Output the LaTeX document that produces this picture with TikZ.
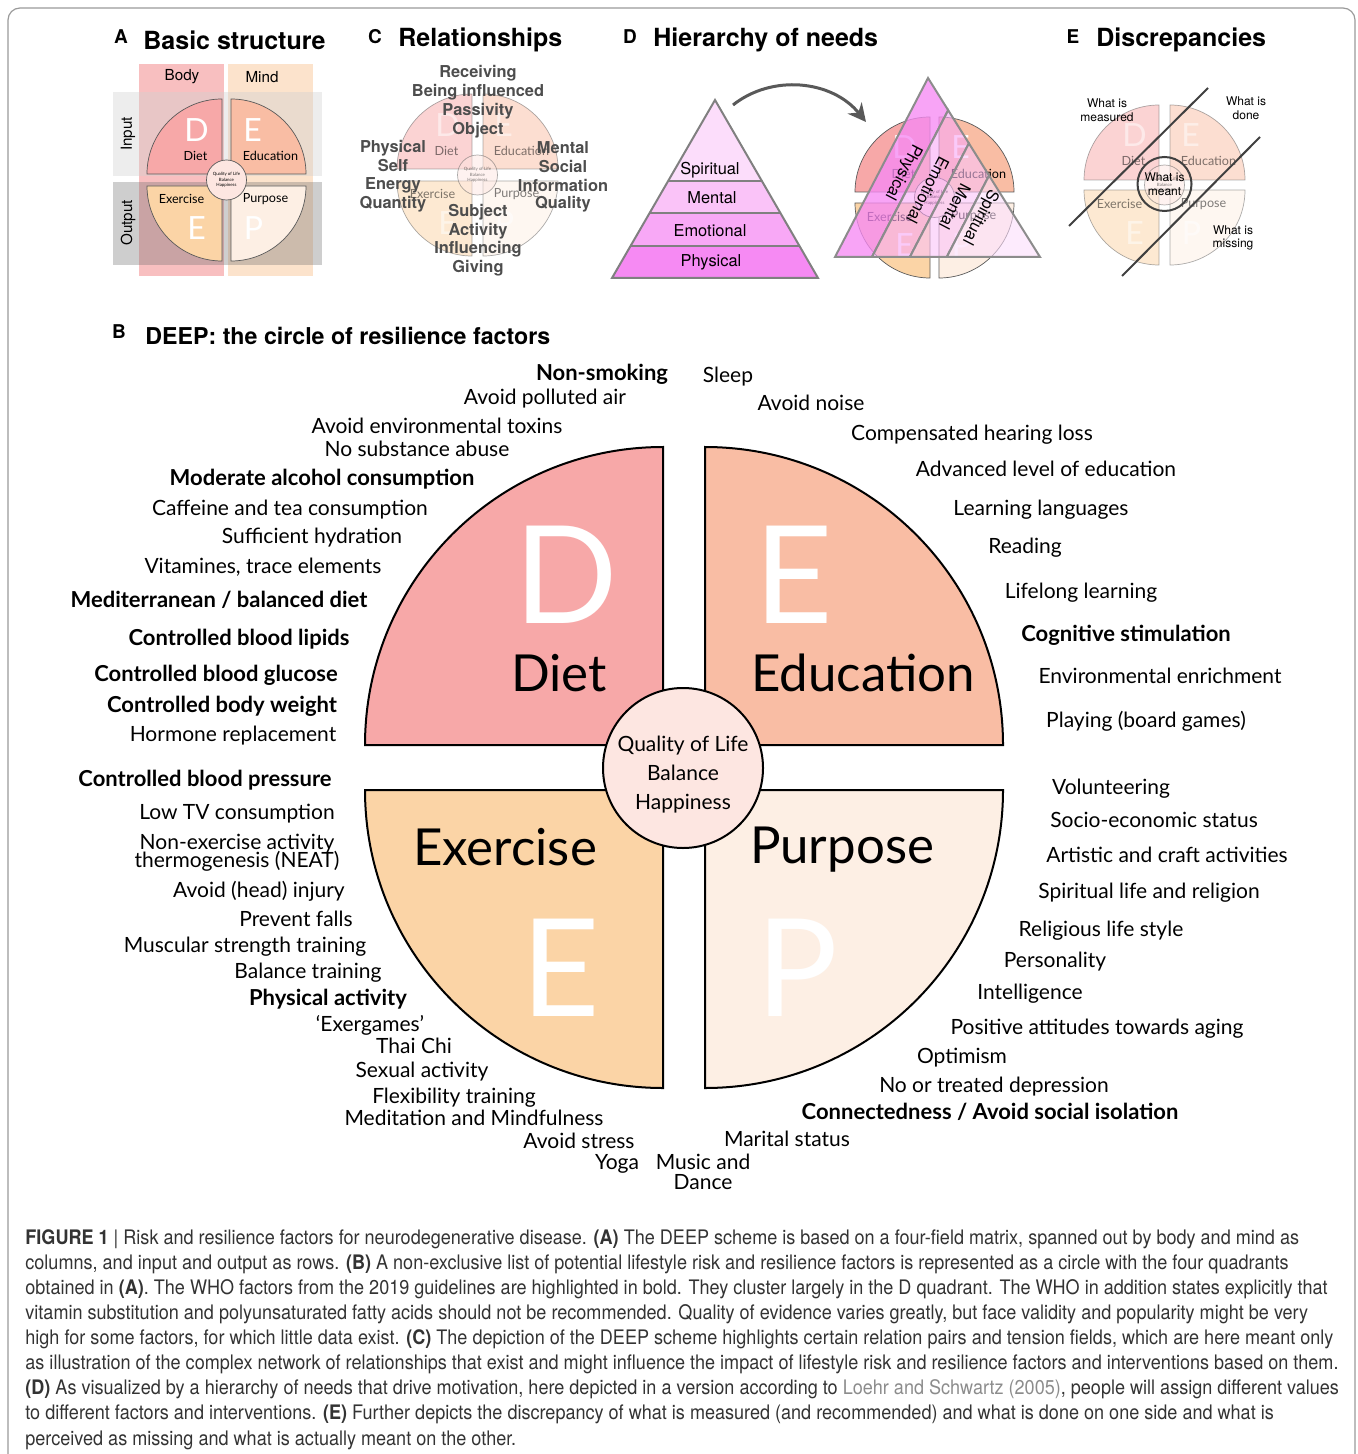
\documentclass[tikz,border=0pt]{standalone}
\usepackage{fontspec}
\setmainfont{Lato}
\newfontfamily\hv{TeX Gyre Heros}
\newfontfamily\capfont[FakeStretch=0.903]{TeX Gyre Heros}
\usetikzlibrary{calc,arrows.meta}

\definecolor{colD}{HTML}{F7A8A8}
\definecolor{colE}{HTML}{F9BDA4}
\definecolor{colX}{HTML}{FBD4A6}
\definecolor{colP}{HTML}{FDEFE4}
\definecolor{colQ}{HTML}{FDE6E1}
\definecolor{bodycol}{HTML}{F8BFC0}
\definecolor{mindcol}{HTML}{FCE3CC}
\definecolor{pyrS}{HTML}{FCDDFB}
\definecolor{pyrM}{HTML}{FAC3F8}
\definecolor{pyrE}{HTML}{F8A8F6}
\definecolor{pyrP}{HTML}{F68AF3}
\definecolor{txtC}{HTML}{4D4D4D}
\definecolor{capgray}{HTML}{333333}
\definecolor{linkgray}{HTML}{8C8C8C}
\definecolor{framegray}{HTML}{9A9A9A}

% small DEEP circle: name prefix, centre x, centre y, half gap x, half gap y
\newcommand{\minideep}[5]{%
  \draw[mini,fill=colD] (#2-#4,#3-#5) -- ++(-75,0) arc[start angle=180,end angle=270,radius=75] -- cycle;
  \draw[mini,fill=colE] (#2+#4,#3-#5) -- ++(0,-75) arc[start angle=270,end angle=360,radius=75] -- cycle;
  \draw[mini,fill=colX] (#2-#4,#3+#5) -- ++(-75,0) arc[start angle=180,end angle=90,radius=75] -- cycle;
  \draw[mini,fill=colP] (#2+#4,#3+#5) -- ++(75,0) arc[start angle=0,end angle=90,radius=75] -- cycle;
  \node[minilet] (#1D) at (#2-30,#3-50) {D};
  \node[minilet] (#1E) at (#2+26,#3-50) {E};
  \node[minilet] (#1X) at (#2-30,#3+48) {E};
  \node[minilet] (#1P) at (#2+27,#3+48) {P};
  \node[minilab] (#1diet) at (#2-31,#3-24) {Diet};
  \node[minilab] (#1edu) at (#2+44,#3-24) {Education};
  \node[minilab] (#1exe) at (#2-45,#3+19) {Exercise};
  \node[minilab] (#1pur) at (#2+39,#3+19) {Purpose};
  \node[miniqol] (#1qol) at (#2,#3) {Quality of Life\\Balance\\Happiness};
}

\begin{document}
\begin{tikzpicture}[x=0.5pt,y=-0.5pt,
  mini/.style={draw=black!65,line width=0.35pt},
  minilet/.style={text=white,font=\fontsize{16}{16}\selectfont,inner sep=0},
  minilab/.style={font=\fontsize{6.3}{7}\selectfont,inner sep=0},
  miniqol/.style={circle,draw=black!65,line width=0.35pt,fill=colQ,minimum size=20pt,inner sep=0,align=center,font=\fontsize{2.2}{2.7}\selectfont},
  quad/.style={draw=black,line width=1pt},
  biglet/.style={text=white,font=\fontsize{68}{68}\selectfont,inner sep=0},
  bigname/.style={font=\fontsize{25.5}{26}\selectfont,inner sep=0},
  lst/.style={font=\fontsize{10.5}{12}\selectfont,anchor=base,yshift=-3.5pt,inner sep=0},
  lstb/.style={lst,font=\fontsize{11}{12}\selectfont\bfseries},
  ttl/.style={font=\hv\bfseries\fontsize{12.5}{14}\selectfont,anchor=west,inner sep=0},
  pnl/.style={font=\hv\bfseries\fontsize{9.5}{10}\selectfont,inner sep=0},
  axis/.style={font=\hv\fontsize{7.6}{9}\selectfont,inner sep=0},
  rel/.style={font=\hv\bfseries\fontsize{8.2}{9}\selectfont,text=txtC,inner sep=0},
  need/.style={font=\hv\fontsize{8.2}{9}\selectfont,inner sep=0},
  disc/.style={font=\hv\fontsize{6}{6.8}\selectfont,align=center,inner sep=0},
  pyrline/.style={draw=black!50,line width=1pt},
  strip/.style={draw=black!45,line width=1pt,fill opacity=0.6}
  ]
  \useasboundingbox (0,0) rectangle (1357,1454);
  \draw[framegray,line width=0.6pt,rounded corners=6pt] (8,1454) -- (8,8) -- (1355,8) -- (1355,1454);

  % A: basic structure
  \node[pnl] (la) at (121,37) {A};
  \node[ttl] (ta) at (143,40) {Basic structure};
  \fill[bodycol] (139,64) rectangle (224,276);
  \fill[mindcol] (228,64) rectangle (313,276);
  \fill[black!18,opacity=0.4] (113,92) rectangle (322,176);
  \fill[black!58,opacity=0.33] (113,182) rectangle (322,265);
  \minideep{a}{226.5}{180}{4.5}{6}
  \node[axis] (body) at (182,77) {Body};
  \node[axis] (mind) at (262,77) {Mind};
  \node[axis,rotate=90] (input) at (128,134) {Input};
  \node[axis,rotate=90] (output) at (128,223) {Output};

  % C: relationships
  \node[pnl] (lc) at (375,37) {C};
  \node[ttl] (tc) at (398,40) {Relationships};
  \begin{scope}[opacity=0.5]
    \minideep{c}{477.5}{175}{5.5}{6}
  \end{scope}
  \node[rel] (recv) at (478,73) {Receiving};
  \node[rel] (beinf) at (478,92) {Being influenced};
  \node[rel] (pass) at (478,111) {Passivity};
  \node[rel] (obj) at (478,130) {Object};
  \node[rel] (phys) at (393,148) {Physical};
  \node[rel] (self) at (393,166) {Self};
  \node[rel] (enrg) at (393,185) {Energy};
  \node[rel] (quan) at (393,204) {Quantity};
  \node[rel] (ment) at (563,148) {Mental};
  \node[rel] (soc) at (563,166) {Social};
  \node[rel] (info) at (563,185) {Information};
  \node[rel] (qual) at (563,204) {Quality};
  \node[rel] (subj) at (478,212) {Subject};
  \node[rel] (act) at (478,231) {Activity};
  \node[rel] (infl) at (478,249) {Influencing};
  \node[rel] (giv) at (478,268) {Giving};

  % D: hierarchy of needs
  \node[pnl] (ld) at (630,37) {D};
  \node[ttl] (td) at (653,40) {Hierarchy of needs};
  \coordinate (pA) at (715,100);
  \coordinate (pL) at (612,278);
  \coordinate (pR) at (818,278);
  \fill[pyrS] (pA) -- ($(pA)!0.455!(pL)$) -- ($(pA)!0.455!(pR)$) -- cycle;
  \fill[pyrM] ($(pA)!0.455!(pL)$) -- ($(pA)!0.635!(pL)$) -- ($(pA)!0.635!(pR)$) -- ($(pA)!0.455!(pR)$) -- cycle;
  \fill[pyrE] ($(pA)!0.635!(pL)$) -- ($(pA)!0.82!(pL)$) -- ($(pA)!0.82!(pR)$) -- ($(pA)!0.635!(pR)$) -- cycle;
  \fill[pyrP] ($(pA)!0.82!(pL)$) -- (pL) -- (pR) -- ($(pA)!0.82!(pR)$) -- cycle;
  \foreach \t in {0.455,0.635,0.82}
    \draw[pyrline] ($(pA)!\t!(pL)$) -- ($(pA)!\t!(pR)$);
  \draw[pyrline] (pA) -- (pL) -- (pR) -- cycle;
  \node[need] (spir) at (710,170) {Spiritual};
  \node[need] (ment2) at (712,198) {Mental};
  \node[need] (emot) at (710,231) {Emotional};
  \node[need] (phys2) at (711,262) {Physical};
  \coordinate (arrS) at (733,105);
  \coordinate (arrE) at (866,122);
  \draw[black!65,line width=1.5pt,-{Stealth[length=9pt,width=9pt]}] (arrS) .. controls (772,74) and (832,80) .. (arrE);
  \minideep{d}{934.5}{197.5}{4.5}{5.5}
  \coordinate (tA) at (928,78);
  \coordinate (tB) at (835,257);
  \coordinate (tC) at (1040,257);
  \draw[strip,fill=pyrP,fill opacity=0.78] (tA) -- (tB) -- ($(tC)!0.82!(tB)$) -- ($(tC)!0.82!(tA)$) -- cycle;
  \draw[strip,fill=pyrE] ($(tC)!0.82!(tA)$) -- ($(tC)!0.82!(tB)$) -- ($(tC)!0.635!(tB)$) -- ($(tC)!0.635!(tA)$) -- cycle;
  \draw[strip,fill=pyrM] ($(tC)!0.635!(tA)$) -- ($(tC)!0.635!(tB)$) -- ($(tC)!0.455!(tB)$) -- ($(tC)!0.455!(tA)$) -- cycle;
  \draw[strip,fill=pyrS] ($(tC)!0.455!(tA)$) -- ($(tC)!0.455!(tB)$) -- (tC) -- cycle;
  \node[need,rotate=-117.5] (rphys) at (903,172) {Physical};
  \node[need,rotate=-117.5] (remot) at (928,190) {Emotional};
  \node[need,rotate=-117.5] (rment) at (955,207) {Mental};
  \node[need,rotate=-117.5] (rspir) at (980,217) {Spiritual};

  % E: discrepancies
  \node[pnl] (le) at (1073,37) {E};
  \node[ttl] (te) at (1096,40) {Discrepancies};
  \begin{scope}[opacity=0.5]
    \minideep{e}{1164.5}{185}{5.5}{5}
  \end{scope}
  \node[disc,circle,draw=black!75,line width=1pt,minimum size=27pt] (meant) at (1164.5,184) {What is\\meant};
  \node[disc] (measd) at (1107,110) {What is\\measured};
  \node[disc] (done) at (1246,108) {What is\\done};
  \node[disc] (miss) at (1233,238) {What is\\missing};
  \coordinate (eL1) at (1069,226);
  \coordinate (eR1) at (1208,88);
  \coordinate (eL2) at (1122,276);
  \coordinate (eR2) at (1260,137);
  \draw[black!75,line width=1pt] (eL1) -- (eR1);
  \draw[black!75,line width=1pt] (eL2) -- (eR2);

  % B: the DEEP circle
  \node[pnl] (lb) at (119,332) {B};
  \node[ttl,font=\hv\bfseries\fontsize{11.6}{14}\selectfont] (tb) at (145,336) {DEEP: the circle of resilience factors};
  \draw[quad,fill=colD] (663,745) -- ++(-298,0) arc[start angle=180,end angle=270,radius=298] -- cycle;
  \draw[quad,fill=colE] (705,745) -- ++(0,-298) arc[start angle=270,end angle=360,radius=298] -- cycle;
  \draw[quad,fill=colX] (663,790) -- ++(-298,0) arc[start angle=180,end angle=90,radius=298] -- cycle;
  \draw[quad,fill=colP] (705,790) -- ++(298,0) arc[start angle=0,end angle=90,radius=298] -- cycle;
  \node[biglet] (bD) at (566,575) {D};
  \node[biglet] (bE) at (794,575) {E};
  \node[biglet] (bX) at (561,968) {E};
  \node[biglet] (bP) at (797,968) {P};
  \node[bigname] (diet) at (559,673) {Diet};
  \node[bigname] (edu) at (863,673) {Education};
  \node[bigname] (exe) at (505,847) {Exercise};
  \node[bigname] (pur) at (842,850) {Purpose};
  \node[circle,draw=black,line width=1pt,fill=colQ,minimum size=80pt] (qol) at (683,768) {};
  \node[align=center,inner sep=0,font=\fontsize{10.5}{14.5}\selectfont] (qoltxt) at (qol.center) [yshift=-3.5pt] {Quality of Life\\Balance\\Happiness};

  % B: diet side
  \node[lstb] (nsmok) at (602,374) {Non-smoking};
  \node[lst] (polair) at (545,398) {Avoid polluted air};
  \node[lst] (toxin) at (437,426) {Avoid environmental toxins};
  \node[lst] (subst) at (417,450) {No substance abuse};
  \node[lstb] (alcoh) at (322,478) {Moderate alcohol consumption};
  \node[lst] (caff) at (290,508) {Caffeine and tea consumption};
  \node[lst] (hydr) at (312,536) {Sufficient hydration};
  \node[lst] (vitam) at (263,566) {Vitamines, trace elements};
  \node[lstb] (medit) at (219,600) {Mediterranean / balanced diet};
  \node[lstb] (lipid) at (239,638) {Controlled blood lipids};
  \node[lstb] (gluc) at (216,674) {Controlled blood glucose};
  \node[lstb] (weight) at (222,705) {Controlled body weight};
  \node[lst] (horm) at (233,734) {Hormone replacement};

  % B: exercise side
  \node[lstb] (press) at (205,779) {Controlled blood pressure};
  \node[lst] (lowtv) at (237,812) {Low TV consumption};
  \node[lst] (neat1) at (237,842) {Non-exercise activity};
  \node[lst] (neat2) at (237,860) {thermogenesis (NEAT)};
  \node[lst] (injur) at (259,890) {Avoid (head) injury};
  \node[lst] (falls) at (296,919) {Prevent falls};
  \node[lst] (muscl) at (245,945) {Muscular strength training};
  \node[lst] (balan) at (308,971) {Balance training};
  \node[lstb] (physa) at (328,998) {Physical activity};
  \node[lst] (exerg) at (370,1024) {‘Exergames’};
  \node[lst] (thai) at (414,1046) {Thai Chi};
  \node[lst] (sexual) at (422,1070) {Sexual activity};
  \node[lst] (flex) at (454,1096) {Flexibility training};
  \node[lst] (mindf) at (474,1118) {Meditation and Mindfulness};
  \node[lst] (stress) at (579,1141) {Avoid stress};
  \node[lst] (yoga) at (617,1162) {Yoga};
  \node[lst] (music) at (703,1162) {Music and};
  \node[lst] (dance) at (703,1182) {Dance};

  % B: education side
  \node[lst] (sleep) at (728,376) {Sleep};
  \node[lst] (noise) at (811,404) {Avoid noise};
  \node[lst] (hear) at (972,433) {Compensated hearing loss};
  \node[lst] (advl) at (1046,469) {Advanced level of education};
  \node[lst] (lang) at (1041,508) {Learning languages};
  \node[lst] (read) at (1025,546) {Reading};
  \node[lst] (life) at (1081,591) {Lifelong learning};
  \node[lstb] (cogn) at (1126,634) {Cognitive stimulation};
  \node[lst] (envr) at (1160,676) {Environmental enrichment};
  \node[lst] (play) at (1146,720) {Playing (board games)};

  % B: purpose side
  \node[lst] (volun) at (1111,787) {Volunteering};
  \node[lst] (socio) at (1154,820) {Socio-economic status};
  \node[lst] (art) at (1167,855) {Artistic and craft activities};
  \node[lst] (spirl) at (1149,891) {Spiritual life and religion};
  \node[lst] (relig) at (1101,929) {Religious life style};
  \node[lst] (pers) at (1055,960) {Personality};
  \node[lst] (intel) at (1030,992) {Intelligence};
  \node[lst] (posit) at (1097,1027) {Positive attitudes towards aging};
  \node[lst] (optim) at (962,1056) {Optimism};
  \node[lst] (depr) at (994,1085) {No or treated depression};
  \node[lstb] (conn) at (990,1112) {Connectedness / Avoid social isolation};
  \node[lst] (marit) at (787,1139) {Marital status};

  % caption
  \node[anchor=north west,inner sep=0,align=left,text=capgray,font=\capfont\fontsize{10}{12.55}\selectfont] (capt) at (25,1229) {%
    {\bfseries FIGURE 1} | Risk and resilience factors for neurodegenerative disease. {\bfseries (A)} The DEEP scheme is based on a four-field matrix, spanned out by body and mind as\\
    columns, and input and output as rows. {\bfseries (B)} A non-exclusive list of potential lifestyle risk and resilience factors is represented as a circle with the four quadrants\\
    obtained in {\bfseries (A)}. The WHO factors from the 2019 guidelines are highlighted in bold. They cluster largely in the D quadrant. The WHO in addition states explicitly that\\
    vitamin substitution and polyunsaturated fatty acids should not be recommended. Quality of evidence varies greatly, but face validity and popularity might be very\\
    high for some factors, for which little data exist. {\bfseries (C)} The depiction of the DEEP scheme highlights certain relation pairs and tension fields, which are here meant only\\
    as illustration of the complex network of relationships that exist and might influence the impact of lifestyle risk and resilience factors and interventions based on them.\\
    {\bfseries (D)} As visualized by a hierarchy of needs that drive motivation, here depicted in a version according to \textcolor{linkgray}{Loehr and Schwartz (2005)}, people will assign different values\\
    to different factors and interventions. {\bfseries (E)} Further depicts the discrepancy of what is measured (and recommended) and what is done on one side and what is\\
    perceived as missing and what is actually meant on the other.};
\end{tikzpicture}
\end{document}
